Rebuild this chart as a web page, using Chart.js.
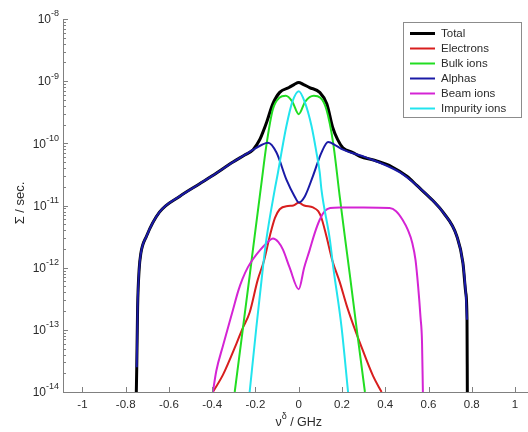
<!DOCTYPE html>
<html>
<head>
<meta charset="utf-8">
<script src="https://cdn.jsdelivr.net/npm/chart.js@4.4.1/dist/chart.umd.min.js"></script>
<style>
  html, body { margin: 0; padding: 0; background: #fff; overflow: hidden; }
  #wrap { position: relative; width: 528px; height: 432px; }
</style>
</head>
<body>
<div id="wrap"><canvas id="sigma-chart"></canvas></div>
<script>
// tick values
const xTicks = [-1, -0.8, -0.6, -0.4, -0.2, 0, 0.2, 0.4, 0.6, 0.8, 1];
const yExponents = [-14, -13, -12, -11, -10, -9, -8];

const seriesNames = ['Total', 'Electrons', 'Bulk ions', 'Alphas', 'Beam ions', 'Impurity ions'];
const seriesColors = ['#000000', '#d81e1e', '#22dd22', '#1a1aa6', '#d424d4', '#22e4ee'];

// frequency (GHz) / rate values
const totalX = [-0.751, -0.749, -0.745, -0.738, -0.73, -0.704, -0.644, -0.551, -0.458, -0.40, -0.304, -0.25, -0.211,
  -0.18, -0.166, -0.148, -0.12, -0.088, -0.045, -0.02, 0, 0.02, 0.05, 0.097, 0.13, 0.157, 0.18, 0.204,
  0.25, 0.282, 0.36, 0.43, 0.5, 0.546, 0.62, 0.667, 0.731, 0.759, 0.772, 0.778, 0.7795];
const totalY = [1e-14, 2.5e-14, 2.3e-13, 9.3e-13, 1.7e-12, 3.2e-12, 7.8e-12, 1.4e-11, 2.24e-11, 3.0e-11, 5.0e-11, 6.5e-11, 7.9e-11,
  1.15e-10, 1.5e-10, 2.2e-10, 4.3e-10, 6.6e-10, 7.9e-10, 8.9e-10, 9.5e-10, 8.9e-10, 7.9e-10, 6.6e-10, 4.3e-10, 1.8e-10, 1.15e-10, 8.5e-11,
  7.1e-11, 6.2e-11, 5.2e-11, 4.2e-11, 2.95e-11, 2.1e-11, 1.2e-11, 7.8e-12, 3.2e-12, 1.2e-12, 4e-13, 1.45e-13, 1e-14];

const elecX = [-0.397, -0.35, -0.288, -0.26, -0.227, -0.19, -0.16, -0.134, -0.11, -0.088, -0.05, -0.025, -0.01, 0,
  0.01, 0.025, 0.066, 0.09, 0.105, 0.128, 0.155, 0.19, 0.221, 0.25, 0.282, 0.344, 0.383];
const elecY = [1e-14, 1.9e-14, 6.0e-14, 1.05e-13, 1.9e-13, 6.3e-13, 1.32e-12, 3.2e-12, 6.3e-12, 8.7e-12, 9.8e-12, 1.0e-11, 1.07e-11, 1.12e-11,
  1.07e-11, 1.0e-11, 9.3e-12, 8.1e-12, 6.3e-12, 3.2e-12, 1.32e-12, 5.8e-13, 2.5e-13, 1.26e-13, 6.3e-14, 1.8e-14, 1e-14];

const bulkX = [-0.296, -0.258, -0.227, -0.204, -0.173, -0.15, -0.12, -0.09, -0.06, -0.03, 0,
  0.03, 0.07, 0.1, 0.128, 0.159, 0.19, 0.213, 0.236, 0.267, 0.306];
const bulkY = [1e-14, 1.07e-13, 7.4e-13, 3.2e-12, 2.2e-11, 9.1e-11, 3.5e-10, 5.4e-10, 5.8e-10, 4.7e-10, 2.95e-10,
  4.7e-10, 5.8e-10, 5.4e-10, 3.5e-10, 1.02e-10, 1.35e-11, 3.2e-12, 7.8e-13, 1.1e-13, 1e-14];

const alphaX = [-0.749, -0.745, -0.738, -0.73, -0.704, -0.644, -0.551, -0.458, -0.40, -0.304, -0.25, -0.211, -0.17,
  -0.142, -0.103, -0.057, -0.019, 0, 0.028, 0.066, 0.105, 0.136, 0.17, 0.205, 0.313, 0.468, 0.546,
  0.62, 0.667, 0.731, 0.759, 0.772, 0.778];
const alphaY = [2.5e-14, 2.3e-13, 9.3e-13, 1.7e-12, 3.2e-12, 7.8e-12, 1.4e-11, 2.24e-11, 3.0e-11, 5.0e-11, 6.5e-11, 7.9e-11, 9.5e-11,
  1.02e-10, 7.1e-11, 2.6e-11, 1.4e-11, 1.12e-11, 1.4e-11, 3.0e-11, 7.1e-11, 1.05e-10, 9.3e-11, 7.9e-11, 5.9e-11, 3.4e-11, 2.1e-11,
  1.2e-11, 7.8e-12, 3.2e-12, 1.2e-12, 4e-13, 1.45e-13];

const beamX = [-0.397, -0.381, -0.35, -0.304, -0.28, -0.26, -0.235, -0.211, -0.18, -0.15, -0.119, -0.095, -0.073, -0.042, 0,
  0.025, 0.05, 0.075, 0.097, 0.12, 0.145, 0.19, 0.3, 0.42, 0.45, 0.48, 0.505, 0.525, 0.54, 0.552, 0.563, 0.57, 0.574];
const beamY = [1e-14, 2.2e-14, 5.6e-14, 2.1e-13, 4.2e-13, 6.6e-13, 1.02e-12, 1.38e-12, 1.9e-12, 2.45e-12, 2.95e-12, 2.6e-12, 1.95e-12, 1.0e-12, 4.5e-13,
  1.0e-12, 1.9e-12, 3.7e-12, 5.9e-12, 8.1e-12, 9.1e-12, 9.3e-12, 9.3e-12, 9.1e-12, 8.1e-12, 5.9e-12, 4.0e-12, 2.5e-12, 1.32e-12, 5.0e-13, 1.6e-13, 6.3e-14, 1e-14];

const impX = [-0.227, -0.196, -0.165, -0.15, -0.111, -0.096, -0.08, -0.057, -0.03, 0,
  0.028, 0.059, 0.082, 0.097, 0.105, 0.144, 0.159, 0.198, 0.228];
const impY = [1e-14, 1.1e-13, 1.05e-12, 2.8e-12, 1.8e-11, 3.4e-11, 7.1e-11, 1.9e-10, 4.6e-10, 6.9e-10,
  4.6e-10, 1.9e-10, 7.1e-11, 3.4e-11, 1.8e-11, 2.8e-12, 1.05e-12, 1.1e-13, 1e-14];

const seriesX = [totalX, elecX, bulkX, alphaX, beamX, impX];
const seriesY = [totalY, elecY, bulkY, alphaY, beamY, impY];

const FONT = '"Liberation Sans", Arial, sans-serif';
const axisColor = '#808080';
const textColor = '#2b2b2b';

function points(xs, ys) {
  return xs.map(function (x, i) { return { x: x, y: ys[i] }; });
}

// axes ticks, labels, titles and legend drawn by hand (MATLAB look)
const decorPlugin = {
  id: 'decor',
  afterDraw: function (chart) {
    const ctx = chart.ctx;
    const area = chart.chartArea;
    const xs = chart.scales.x;
    const ys = chart.scales.y;
    ctx.save();

    // tick marks
    ctx.strokeStyle = axisColor;
    ctx.lineWidth = 1;
    ctx.beginPath();
    xTicks.forEach(function (v) {
      const px = Math.round(xs.getPixelForValue(v)) + 0.5;
      ctx.moveTo(px, area.bottom);
      ctx.lineTo(px, area.bottom - 5);
    });
    yExponents.forEach(function (e) {
      const py = Math.round(ys.getPixelForValue(Math.pow(10, e))) + 0.5;
      ctx.moveTo(area.left, py);
      ctx.lineTo(area.left + 5, py);
      if (e < -8) {
        for (let m = 2; m <= 9; m++) {
          const pm = Math.round(ys.getPixelForValue(m * Math.pow(10, e))) + 0.5;
          ctx.moveTo(area.left, pm);
          ctx.lineTo(area.left + 3, pm);
        }
      }
    });
    ctx.stroke();

    // x tick labels
    ctx.fillStyle = textColor;
    ctx.font = '11.5px ' + FONT;
    ctx.textAlign = 'center';
    ctx.textBaseline = 'middle';
    xTicks.forEach(function (v) {
      ctx.fillText(String(v), xs.getPixelForValue(v), area.bottom + 13);
    });

    // y tick labels 10^n
    const right = area.left - 4;
    yExponents.forEach(function (e) {
      const py = ys.getPixelForValue(Math.pow(10, e));
      ctx.font = '9px ' + FONT;
      ctx.textAlign = 'right';
      ctx.fillText(String(e), right, py - 5);
      const supW = ctx.measureText(String(e)).width;
      ctx.font = '12px ' + FONT;
      ctx.fillText('10', right - supW, py + 1);
    });

    // x title: nu^delta / GHz
    const tx = xs.getPixelForValue(0);
    ctx.font = '12.5px ' + FONT;
    const w1 = ctx.measureText('\u03BD').width;
    ctx.font = '9px ' + FONT;
    const w2 = ctx.measureText('\u03B4').width;
    ctx.font = '12.5px ' + FONT;
    const w3 = ctx.measureText(' / GHz').width;
    let sx = tx - (w1 + w2 + w3) / 2;
    ctx.textAlign = 'left';
    ctx.fillText('\u03BD', sx, 423);
    ctx.font = '9px ' + FONT;
    ctx.fillText('\u03B4', sx + w1, 417);
    ctx.font = '12.5px ' + FONT;
    ctx.fillText(' / GHz', sx + w1 + w2, 423);

    // y title
    ctx.save();
    ctx.translate(20, 203);
    ctx.rotate(-Math.PI / 2);
    ctx.textAlign = 'center';
    ctx.font = '13px ' + FONT;
    ctx.fillText('\u03A3 / sec.', 0, 0);
    ctx.restore();

    // legend box
    const bx = 403, by = 22, bw = 118, bh = 95;
    ctx.fillStyle = '#ffffff';
    ctx.fillRect(bx, by, bw, bh);
    ctx.strokeStyle = '#8c8c8c';
    ctx.strokeRect(bx + 0.5, by + 0.5, bw, bh);
    ctx.font = '11.5px ' + FONT;
    ctx.textAlign = 'left';
    ctx.textBaseline = 'middle';
    seriesNames.forEach(function (name, i) {
      const ly = by + 11.5 + i * 15;
      ctx.strokeStyle = seriesColors[i];
      ctx.lineWidth = i === 0 ? 3 : 2;
      ctx.beginPath();
      ctx.moveTo(410, ly);
      ctx.lineTo(435, ly);
      ctx.stroke();
      ctx.fillStyle = textColor;
      ctx.fillText(name, 441, ly);
    });

    ctx.restore();
  }
};

const datasets = seriesNames.map(function (name, i) {
  return {
    label: name,
    data: points(seriesX[i], seriesY[i]),
    borderColor: seriesColors[i],
    borderWidth: i === 0 ? 3 : 2,
    pointRadius: 0,
    cubicInterpolationMode: 'monotone',
    fill: false,
    order: seriesNames.length - i
  };
});

new Chart(document.getElementById('sigma-chart'), {
  type: 'line',
  data: { datasets: datasets },
  options: {
    responsive: true,
    maintainAspectRatio: false,
    animation: false,
    events: [],
    layout: { padding: { left: 63, top: 19, right: 0, bottom: 40 } },
    plugins: {
      legend: { display: false },
      tooltip: { enabled: false }
    },
    scales: {
      x: {
        type: 'linear',
        min: -1.09,
        max: 1.06,
        ticks: { display: false },
        grid: { display: false, drawTicks: false },
        border: { display: true, color: axisColor, width: 1 }
      },
      y: {
        type: 'logarithmic',
        min: 1e-14,
        max: 1e-8,
        ticks: { display: false },
        grid: { display: false, drawTicks: false },
        border: { display: true, color: axisColor, width: 1 }
      }
    }
  },
  plugins: [decorPlugin]
});
</script>
</body>
</html>
